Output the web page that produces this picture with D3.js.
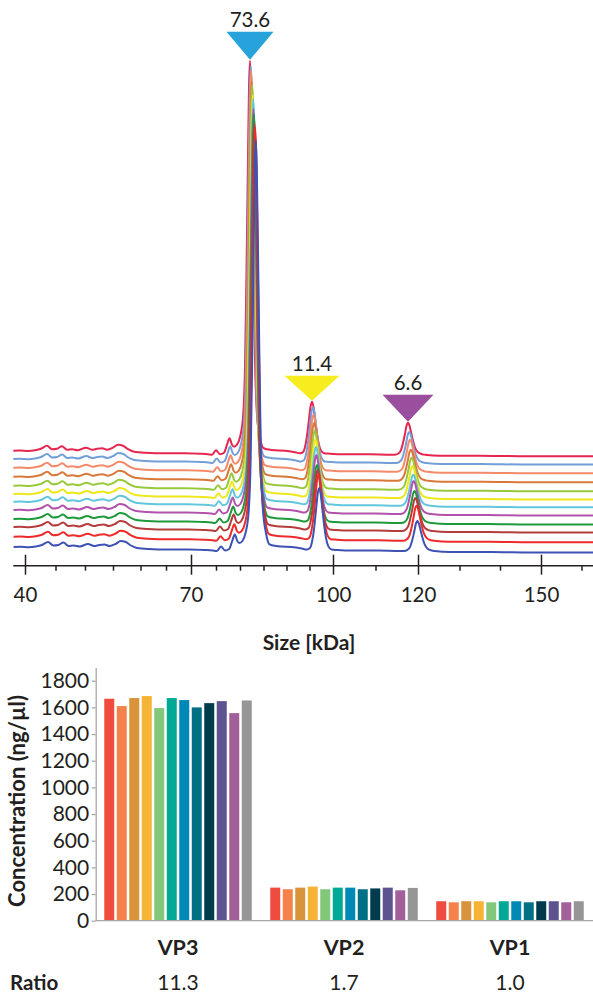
<!DOCTYPE html>
<html>
<head>
<meta charset="utf-8">
<script src="https://cdn.jsdelivr.net/npm/d3@7"></script>
<style>
  html, body { margin: 0; padding: 0; background: #fff; }
  svg { display: block; font-family: Lato, "Open Sans", sans-serif; }
</style>
</head>
<body>
<svg id="chart" width="593" height="994"></svg>
<script>
// ---------- Electropherogram data ----------
// Sizing ladder: molecular weight (kDa) against migration time (s)
const ladderKDa  = [40, 45, 50, 55, 60, 65, 70, 75, 80, 85, 90, 95, 100, 110, 120, 130, 140, 150, 160];
const ladderTime = [1.25, 2.775, 4.25, 5.65, 7.025, 8.3, 9.55, 10.8, 12.0, 13.175, 14.325, 15.475, 16.65,
                    18.775, 20.9, 22.975, 25.0, 27.05, 29.075];
const majorKDa = [40, 70, 100, 120, 150];
const minorKDa = [45, 50, 55, 60, 65, 75, 80, 85, 90, 95, 110, 130, 140, 160];

// Shared trace profile: [time (s), background RFU, peak index (0 VP3, 1 VP2, 2 VP1, -1 none), fraction of peak height]
const profile = [
  [0.665, 0, -1, 0], [1.0, 0.3, -1, 0], [1.4, -0.2, -1, 0], [1.75, 0.5, -1, 0], [2.05, 2, -1, 0],
  [2.35, 5, -1, 0], [2.6, 1.5, -1, 0], [2.85, 2, -1, 0], [3.1, 4.5, -1, 0], [3.35, 1, -1, 0],
  [3.6, 1.5, -1, 0], [3.9, 0.5, -1, 0], [4.3, 3, -1, 0], [4.6, 1, -1, 0], [4.85, 2, -1, 0],
  [5.1, 2.5, -1, 0], [5.35, 1, -1, 0], [5.65, 3, -1, 0], [5.9, 6, -1, 0], [6.15, 5, -1, 0],
  [6.4, 1.5, -1, 0], [6.7, -1, -1, 0], [7.25, -2, -1, 0], [8.25, -2.5, -1, 0], [9.25, -2.5, -1, 0],
  [10.0, -3, -1, 0], [10.4, -3.5, -1, 0], [10.6, -4, -1, 0], [10.8, 0.5, -1, 0], [11.0, -3.5, -1, 0],
  [11.2, -2, -1, 0], [11.35, 6, -1, 0], [11.475, 12.5, -1, 0], [11.6, 6, -1, 0], [11.7, 4, -1, 0],
  [11.85, 6, 0, 0], [12.0, 6, 0, 0.02], [12.15, 6.5, 0, 0.07], [12.25, 7, 0, 0.2], [12.325, 7, 0, 0.45],
  [12.4, 7, 0, 0.75], [12.45, 7, 0, 0.93], [12.5, 7, 0, 1], [12.55, 7, 0, 0.93], [12.6, 7, 0, 0.76],
  [12.675, 7, 0, 0.47], [12.75, 6.5, 0, 0.22], [12.85, 5.5, 0, 0.08], [13.0, 4, 0, 0.025], [13.15, 3, 0, 0],
  [13.25, 2, -1, 0], [13.5, 1, -1, 0], [13.75, 0.5, -1, 0], [14.25, 0, -1, 0], [14.75, -1.5, -1, 0],
  [15.0, -2.5, 1, 0], [15.15, -3.5, 1, 0.04], [15.25, -3.5, 1, 0.14], [15.35, -3.5, 1, 0.35], [15.45, -3, 1, 0.66],
  [15.525, -3, 1, 0.9], [15.6, -3, 1, 1], [15.675, -3, 1, 0.9], [15.75, -3, 1, 0.68], [15.85, -3, 1, 0.38],
  [15.95, -2.5, 1, 0.16], [16.05, -2.5, 1, 0.05], [16.2, -2.5, 1, 0], [16.5, -3, -1, 0], [17.25, -3.5, -1, 0],
  [18.5, -3.5, -1, 0], [19.5, -4, -1, 0], [19.75, -4, 2, 0], [19.9, -4, 2, 0.03], [20.05, -4, 2, 0.15],
  [20.15, -3.5, 2, 0.36], [20.25, -3.5, 2, 0.66], [20.325, -3, 2, 0.9], [20.4, -3, 2, 1], [20.475, -3, 2, 0.91],
  [20.55, -3, 2, 0.7], [20.65, -3, 2, 0.42], [20.75, -3, 2, 0.2], [20.9, -3.5, 2, 0.06], [21.1, -3.5, 2, 0],
  [21.25, -4, -1, 0], [22.0, -5, -1, 0], [24.0, -5, -1, 0], [26.0, -5.5, -1, 0], [28.0, -5.5, -1, 0],
  [29.65, -5.5, -1, 0]
];

// Per-run values (12 overlaid runs, top to bottom)
const traceColors = ["#e6264e", "#739fd9", "#f38a6a", "#d8783a", "#98c93c", "#eee81a",
                     "#62c6dd", "#b252ac", "#1e9a3c", "#b43c3c", "#ee2a2a", "#3d52b3"];
const traceOffsets = [96.3, 88, 79.3, 70.3, 61.3, 53, 45.3, 37, 28, 20, 10.3, 0];
const vp3Heights = [383, 386, 390, 388, 394, 392, 396, 394, 398, 396, 402, 400];
const vp2Heights = [52, 55, 56, 57, 58.5, 58, 58, 58, 57, 60, 66, 62];
const vp1Heights = [31, 30, 31, 30, 31, 31, 30, 32, 31, 32, 34, 29];
const migrationScale = [1.000, 1.003, 1.005, 1.007, 1.009, 1.011, 1.013, 1.014, 1.016, 1.018, 1.021, 1.023];

// Relative peak areas (%) shown above the peaks
const peakPercent = [73.6, 11.4, 6.6];
const markerColors = ["#27a2db", "#f6ec1e", "#9a4e9e"];

// ---------- Concentration data ----------
const proteins = ["VP3", "VP2", "VP1"];
const vp3Conc = [1665, 1610, 1670, 1685, 1595, 1670, 1655, 1600, 1632, 1647, 1557, 1652];
const vp2Conc = [248, 236, 248, 256, 236, 248, 248, 236, 242, 248, 228, 246];
const vp1Conc = [146, 138, 146, 146, 138, 146, 146, 138, 146, 146, 138, 146];
const ratios = [11.3, 1.7, 1.0];
const barColors = ["#ef4b3f", "#f4824a", "#d9933a", "#f6b436", "#83c77b", "#00a896",
                   "#0089b7", "#007184", "#003c4d", "#5c5390", "#a2609b", "#969696"];
const concTicks = [0, 200, 400, 600, 800, 1000, 1200, 1400, 1600, 1800];

// ---------- Drawing ----------
const W = 593;
const ink = "#231f20";
const svg = d3.select("#chart");

// Electropherogram scales
const x = d3.scaleLinear().domain([0, 29.65]).range([0, W]);
const y = d3.scaleLinear().domain([0, 500]).range([547, 47]);
const ladder = d3.scaleLinear().domain(ladderKDa).range(ladderTime);
const kda = d3.scaleLinear().domain(ladderKDa).range(ladderKDa.map(k => x(ladder(k))));

const heights = [vp3Heights, vp2Heights, vp1Heights];
function traceValue(row, i) {
  const [t, base, p, f] = row;
  return traceOffsets[i] + base + (p >= 0 ? heights[p][i] * f : 0);
}

const line = d3.line()
  .x(d => x(d.t))
  .y(d => y(d.v))
  .curve(d3.curveMonotoneX);

const traces = svg.append("g").attr("class", "traces");
traceColors.forEach((c, i) => {
  const pts = profile.map(r => ({ t: r[0] * migrationScale[i], v: traceValue(r, i) }));
  traces.append("path")
    .attr("d", line(pts))
    .attr("fill", "none")
    .attr("stroke", c)
    .attr("stroke-width", 2)
    .attr("stroke-linejoin", "round");
});

// Peak markers on the top run
const markerSize = [{ w: 47, h: 28 }, { w: 55, h: 25 }, { w: 51, h: 27 }];
const markers = svg.append("g").attr("class", "markers");
peakPercent.forEach((pct, p) => {
  const apex = profile.find(r => r[2] === p && r[3] === 1);
  const px = x(apex[0] * migrationScale[0]);
  const tip = y(traceValue(apex, 0)) - 1;
  const hw = markerSize[p].w / 2, h = markerSize[p].h;
  markers.append("path")
    .attr("d", `M${px - hw},${tip - h}L${px + hw},${tip - h}L${px},${tip}Z`)
    .attr("fill", markerColors[p]);
  markers.append("text")
    .attr("x", px)
    .attr("y", tip - h - 5)
    .attr("text-anchor", "middle")
    .attr("font-size", 20.5)
    .attr("fill", ink)
    .text(pct.toFixed(1));
});

// Size axis
const axisY = 565.7;
const axisG = svg.append("g").attr("transform", `translate(0,${axisY})`);
axisG.append("line")
  .attr("x1", x(profile[0][0])).attr("x2", W)
  .attr("stroke", ink).attr("stroke-width", 1.5);

const minorAxis = axisG.append("g")
  .call(d3.axisBottom(kda).tickValues(minorKDa).tickSize(5).tickFormat(""));
minorAxis.select(".domain").remove();
minorAxis.selectAll(".tick line").attr("stroke", ink).attr("stroke-width", 1.5);

const majorAxis = axisG.append("g")
  .call(d3.axisBottom(kda).tickValues(majorKDa).tickSize(9));
majorAxis.select(".domain").remove();
majorAxis.selectAll(".tick line").attr("y1", -11).attr("stroke", ink).attr("stroke-width", 1.5);
majorAxis.attr("font-size", 20.5).attr("font-family", null);
majorAxis.selectAll(".tick text").attr("y", 36).attr("dy", null).attr("fill", ink);

svg.append("text")
  .attr("x", 309).attr("y", 650)
  .attr("text-anchor", "middle")
  .attr("font-size", 21).attr("font-weight", 700)
  .attr("fill", ink)
  .text("Size [kDa]");

// ---------- Bar chart ----------
const yb = d3.scaleLinear().domain([0, 1900]).range([920.7, 667.4]);
const xb = d3.scaleBand().domain(proteins).range([95, 593]).padding(0);
const xi = d3.scaleBand().domain(d3.range(vp3Conc.length)).range([0, xb.bandwidth()])
  .paddingInner(0.2).paddingOuter(0.74);
const concByProtein = { VP3: vp3Conc, VP2: vp2Conc, VP1: vp1Conc };

const axisGray = "#a8a8a8";
const barsG = svg.append("g");
proteins.forEach(pr => {
  const g = barsG.append("g").attr("transform", `translate(${xb(pr)},0)`);
  g.selectAll("rect").data(concByProtein[pr]).join("rect")
    .attr("x", (d, i) => xi(i))
    .attr("width", xi.bandwidth())
    .attr("y", d => yb(d))
    .attr("height", d => yb(0) - yb(d))
    .attr("fill", (d, i) => barColors[i]);
});

svg.append("line")
  .attr("x1", 95.7).attr("x2", W)
  .attr("y1", yb(0)).attr("y2", yb(0))
  .attr("stroke", axisGray).attr("stroke-width", 1.3);

const yAxisG = svg.append("g").attr("transform", "translate(95.7,0)")
  .call(d3.axisLeft(yb).tickValues(concTicks).tickFormat(d3.format("d"))
    .tickSize(4).tickSizeOuter(0).tickPadding(2.5));
yAxisG.attr("font-size", 21).attr("font-family", null);
yAxisG.select(".domain").attr("stroke", axisGray).attr("stroke-width", 1.3);
yAxisG.selectAll(".tick line").attr("stroke", axisGray).attr("stroke-width", 1.3);
yAxisG.selectAll(".tick text").attr("fill", ink);

svg.append("text")
  .attr("transform", "translate(25,801) rotate(-90)")
  .attr("text-anchor", "middle")
  .attr("font-size", 22).attr("font-weight", 700)
  .attr("fill", ink)
  .text("Concentration (ng/µl)");

// Protein names and ratio row
proteins.forEach((pr, k) => {
  const cx = xb(pr) + xb.bandwidth() / 2;
  svg.append("text")
    .attr("x", cx).attr("y", 955)
    .attr("text-anchor", "middle")
    .attr("font-size", 21.5).attr("font-weight", 700)
    .attr("fill", ink)
    .text(pr);
  svg.append("text")
    .attr("x", cx).attr("y", 990)
    .attr("text-anchor", "middle")
    .attr("font-size", 21)
    .attr("fill", ink)
    .text(ratios[k].toFixed(1));
});
svg.append("text")
  .attr("x", 10).attr("y", 990)
  .attr("font-size", 20.5).attr("font-weight", 700)
  .attr("fill", ink)
  .text("Ratio");
</script>
</body>
</html>
